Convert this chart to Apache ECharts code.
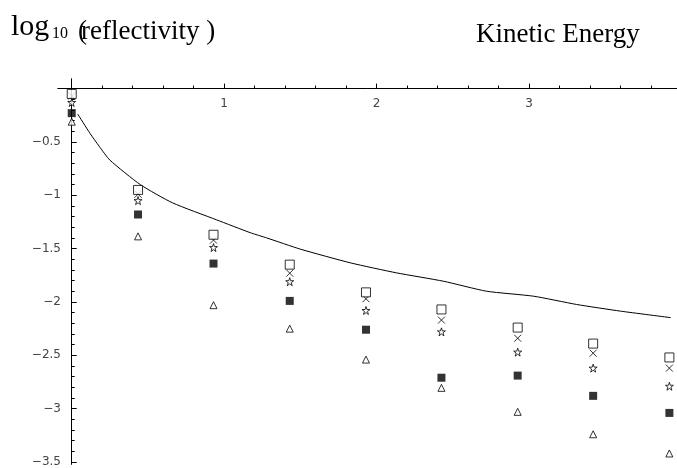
<!DOCTYPE html>
<html>
<head>
<meta charset="utf-8">
<script src="https://cdn.jsdelivr.net/npm/echarts@6/dist/echarts.min.js"></script>
<style>
html,body{margin:0;padding:0;background:#fff;}
#chart{width:677px;height:468px;}
</style>
</head>
<body>
<div id="chart"></div>
<script>
// ---- data ----
var energies = [0, 0.435, 0.93, 1.43, 1.93, 2.425, 2.925, 3.42, 3.92];
var openSquare = [-0.05, -0.95, -1.37, -1.65, -1.91, -2.07, -2.24, -2.39, -2.52];
var crossVals  = [-0.07, -0.99, -1.42, -1.73, -1.97, -2.17, -2.34, -2.48, -2.62];
var starVals   = [-0.13, -1.05, -1.49, -1.81, -2.08, -2.28, -2.47, -2.62, -2.79];
var filledSq   = [-0.23, -1.18, -1.64, -1.99, -2.26, -2.71, -2.69, -2.88, -3.04];
var triangleV  = [-0.31, -1.385, -2.03, -2.25, -2.54, -2.805, -3.03, -3.24, -3.42];

var curveX = [0.04, 0.12, 0.18, 0.25, 0.45, 0.66, 0.95, 1.17, 1.28, 1.50, 1.83, 2.13, 2.44, 2.72, 3.03, 3.31, 3.60, 3.93];
var curveY = [-0.24, -0.42, -0.54, -0.67, -0.90, -1.07, -1.23, -1.35, -1.40, -1.505, -1.634, -1.727, -1.806, -1.899, -1.946, -2.023, -2.086, -2.147];

var xTickLabels = [1, 2, 3];
var yTickLabels = [-3.5, -3, -2.5, -2, -1.5, -1, -0.5];

// ---- helpers ----
function pairs(xs, ys) { return xs.map(function (x, i) { return [x, ys[i]]; }); }
function range(a, b, step) { var r = []; for (var v = a; v <= b + 1e-9; v += step) r.push(Math.round(v * 100) / 100); return r; }

var xMinor = range(0.2, 3.8, 0.2);
var yMinor = range(-3.5, -0.1, 0.1);

var STAR = 'path://M50,2 L61,36 L97,36 L68,57 L79,92 L50,71 L21,92 L32,57 L3,36 L39,36 Z';
var CROSS = 'path://M0,0 L10,10 M10,0 L0,10';
var XMIN = -0.09, XMAX = 3.97, YMIN = -3.52, YMAX = 0.09;

var axisLineStyle = { color: '#000', width: 1 };
var labelStyle = { color: '#444', fontSize: 12, fontFamily: 'DejaVu Sans' };

var chart = echarts.init(document.getElementById('chart'), null, { renderer: 'canvas' });
chart.setOption({
  animation: false,
  backgroundColor: '#fff',
  grid: { left: 58, top: 79, width: 619, height: 386, containLabel: false },
  xAxis: [
    {
      type: 'value', min: XMIN, max: XMAX, position: 'top',
      axisLine: { show: true, onZero: true, onZeroAxisIndex: 0, lineStyle: axisLineStyle },
      axisTick: { show: true, inside: false, length: 3, customValues: xMinor, lineStyle: axisLineStyle },
      axisLabel: Object.assign({ show: true, inside: true, margin: 19, customValues: xTickLabels, formatter: function (v) { return String(v); } }, labelStyle),
      splitLine: { show: false }
    },
    {
      type: 'value', min: XMIN, max: XMAX, position: 'bottom',
      axisLine: { show: true, onZero: true, onZeroAxisIndex: 0, lineStyle: axisLineStyle },
      axisTick: { show: true, inside: true, length: 5, customValues: xTickLabels, lineStyle: axisLineStyle },
      axisLabel: { show: false },
      splitLine: { show: false }
    }
  ],
  yAxis: [
    {
      type: 'value', min: YMIN, max: YMAX, position: 'left',
      axisLine: { show: true, onZero: true, onZeroAxisIndex: 0, lineStyle: axisLineStyle },
      axisTick: { show: true, inside: true, length: 3, customValues: yMinor, lineStyle: axisLineStyle },
      axisLabel: Object.assign({ show: true, margin: -3, customValues: yTickLabels, formatter: function (v) { return String(v).replace('-', '\u2212'); } }, labelStyle),
      splitLine: { show: false }
    },
    {
      type: 'value', min: YMIN, max: YMAX, position: 'right',
      axisLine: { show: true, onZero: true, onZeroAxisIndex: 0, lineStyle: axisLineStyle },
      axisTick: { show: true, inside: false, length: 5, customValues: yTickLabels, lineStyle: axisLineStyle },
      axisLabel: { show: false },
      splitLine: { show: false }
    }
  ],
  graphic: [
    { type: 'text', x: 11, y: 27, style: { text: 'log', font: '30px "Liberation Serif"', fill: '#000', verticalAlign: 'middle' } },
    { type: 'text', x: 52, y: 34, style: { text: '10', font: '16px "Liberation Serif"', fill: '#000', verticalAlign: 'middle' } },
    { type: 'text', x: 78, y: 32, style: { text: '(', font: '27px "Liberation Serif"', fill: '#000', verticalAlign: 'middle' } },
    { type: 'text', x: 81, y: 32, style: { text: 'reflectivity )', font: '27px "Liberation Serif"', fill: '#000', verticalAlign: 'middle' } },
    { type: 'text', x: 476, y: 35, style: { text: 'Kinetic Energy', font: '27px "Liberation Serif"', fill: '#000', verticalAlign: 'middle' } }
  ],
  series: [
    {
      type: 'line', data: pairs(curveX, curveY), showSymbol: false, symbol: 'none', smooth: 0.2,
      lineStyle: { color: '#000', width: 1 }, z: 2
    },
    {
      type: 'scatter', data: pairs(energies, triangleV), symbol: 'triangle', symbolSize: 7,
      itemStyle: { color: '#fff', borderColor: '#000', borderWidth: 1 }, z: 3
    },
    {
      type: 'scatter', data: pairs(energies, filledSq), symbol: 'rect', symbolSize: 8,
      itemStyle: { color: '#000', borderColor: '#000', borderWidth: 0 }, z: 3
    },
    {
      type: 'scatter', data: pairs(energies, starVals), symbol: STAR, symbolSize: 8,
      itemStyle: { color: '#fff', borderColor: '#000', borderWidth: 1 }, z: 3
    },
    {
      type: 'scatter', data: pairs(energies, crossVals), symbol: CROSS, symbolSize: 7,
      itemStyle: { color: 'none', borderColor: '#000', borderWidth: 1 }, z: 3
    },
    {
      type: 'scatter', data: pairs(energies, openSquare), symbol: 'rect', symbolSize: 9,
      itemStyle: { color: '#fff', borderColor: '#000', borderWidth: 1 }, z: 3
    }
  ]
});
</script>
</body>
</html>
